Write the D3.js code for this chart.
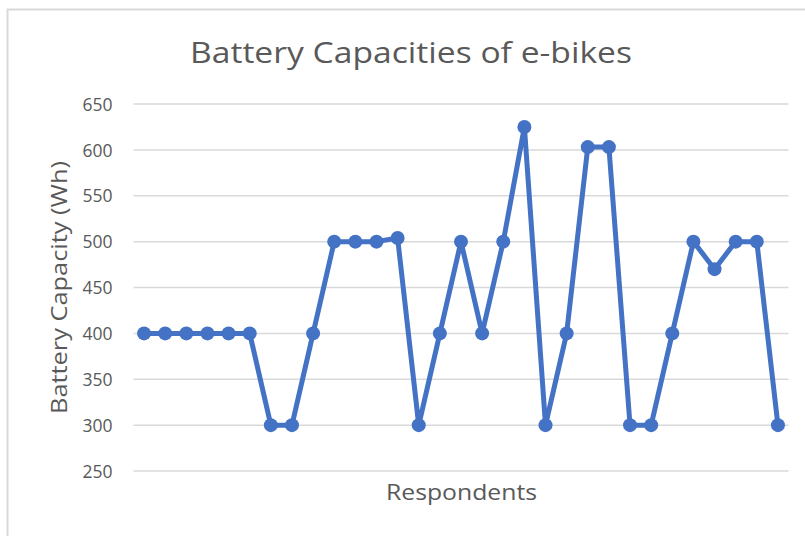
<!DOCTYPE html>
<html>
<head>
<meta charset="utf-8">
<script src="https://cdn.jsdelivr.net/npm/d3@7"></script>
<style>
  html, body { margin: 0; padding: 0; background: #fff; }
  svg { display: block; }
</style>
</head>
<body>
<svg id="chart" width="805" height="536"></svg>
<script>
const respondents = d3.range(1, 32).map(String);
const capacities = [400, 400, 400, 400, 400, 400, 300, 300, 400, 500, 500, 500, 504, 300, 400, 500, 400, 500, 625, 300, 400, 603, 603, 300, 300, 400, 500, 470, 500, 500, 300];
const yTicks = [250, 300, 350, 400, 450, 500, 550, 600, 650];
const titleText = "Battery Capacities of e-bikes";
const xTitle = "Respondents";
const yTitle = "Battery Capacity (Wh)";

const svg = d3.select("#chart");
const font = "'Open Sans', 'Noto Sans', sans-serif";
const textColor = "#595959";
const gridColor = "#d9d9d9";
const lineColor = "#4472C4";

const plot = { left: 133.5, right: 788.5, top: 104, bottom: 471 };

// chart area border
svg.append("path")
  .attr("d", `M7.5,536 L7.5,9.5 L805,9.5`)
  .attr("fill", "none")
  .attr("stroke", gridColor)
  .attr("stroke-width", 2);

const x = d3.scaleBand().domain(respondents).range([plot.left, plot.right]);
const y = d3.scaleLinear().domain([250, 650]).range([plot.bottom, plot.top]);

// gridlines
svg.append("g").selectAll("line").data(yTicks).join("line")
  .attr("x1", plot.left).attr("x2", plot.right)
  .attr("y1", d => y(d)).attr("y2", d => y(d))
  .attr("stroke", gridColor).attr("stroke-width", 1.5);

// y axis labels
const yAxis = d3.axisLeft(y).tickValues(yTicks).tickSize(0).tickPadding(0);
const gy = svg.append("g").attr("transform", `translate(${plot.left - 21},0)`).call(yAxis);
gy.select(".domain").remove();
gy.selectAll("text")
  .attr("fill", textColor)
  .attr("dy", "0.35em")
  .style("font-family", font)
  .style("font-size", "17.5px");

// line
const cx = d => x(d) + x.bandwidth() / 2;
const data = respondents.map((r, i) => ({ r, v: capacities[i] }));
svg.append("path")
  .datum(data)
  .attr("d", d3.line().x(d => cx(d.r)).y(d => y(d.v)))
  .attr("fill", "none")
  .attr("stroke", lineColor)
  .attr("stroke-width", 5)
  .attr("stroke-linejoin", "round");

svg.append("g").selectAll("circle").data(data).join("circle")
  .attr("cx", d => cx(d.r))
  .attr("cy", d => y(d.v))
  .attr("r", 7)
  .attr("fill", lineColor);

// titles
svg.append("text")
  .attr("x", 411).attr("y", 63)
  .attr("text-anchor", "middle")
  .attr("fill", textColor)
  .attr("textLength", 442)
  .attr("lengthAdjust", "spacingAndGlyphs")
  .style("font-family", font)
  .style("font-size", "29px")
  .text(titleText);

svg.append("text")
  .attr("x", 461.5).attr("y", 500)
  .attr("text-anchor", "middle")
  .attr("fill", textColor)
  .attr("textLength", 151)
  .attr("lengthAdjust", "spacingAndGlyphs")
  .style("font-family", font)
  .style("font-size", "21px")
  .text(xTitle);

svg.append("text")
  .attr("transform", `translate(67,${(plot.top + plot.bottom) / 2}) rotate(-90)`)
  .attr("text-anchor", "middle")
  .attr("fill", textColor)
  .attr("textLength", 253)
  .attr("lengthAdjust", "spacingAndGlyphs")
  .style("font-family", font)
  .style("font-size", "21px")
  .text(yTitle);
</script>
</body>
</html>
